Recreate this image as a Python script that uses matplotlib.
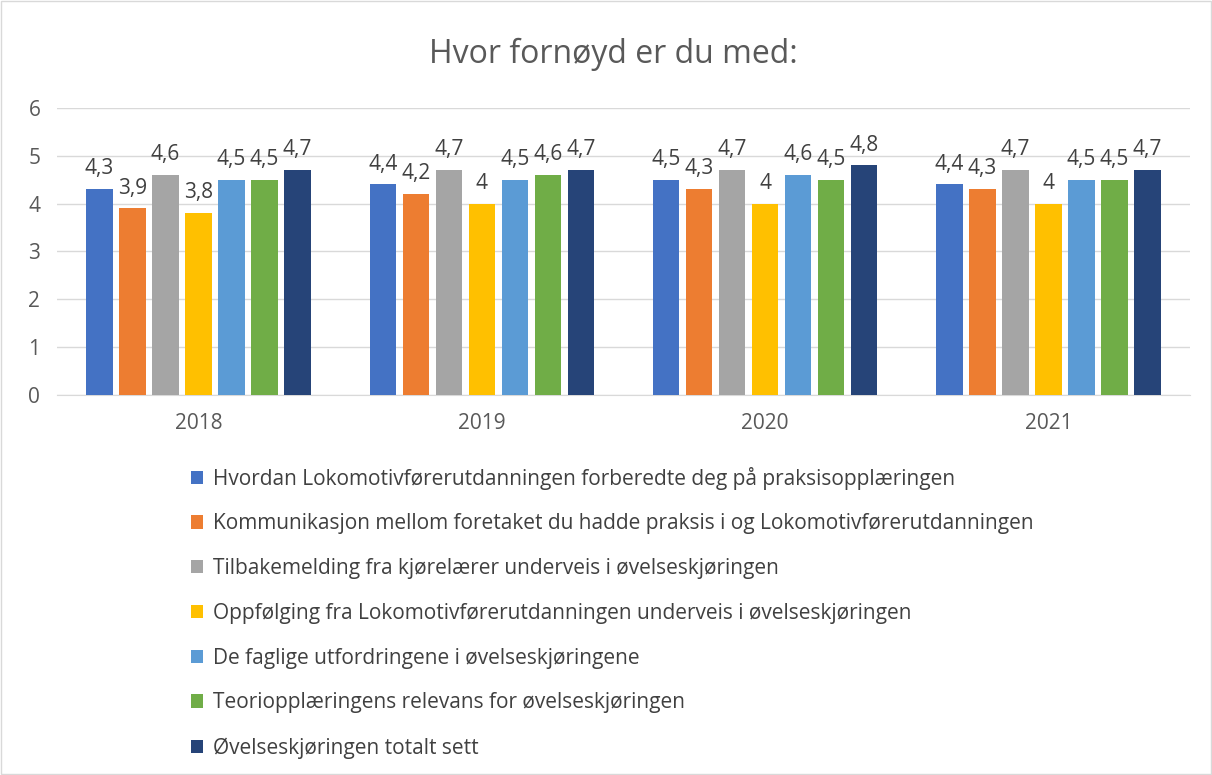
import numpy as np
import matplotlib
matplotlib.use("Agg")
import matplotlib.pyplot as plt

years = ["2018", "2019", "2020", "2021"]
series_names = [
    "Hvordan Lokomotivførerutdanningen forberedte deg på praksisopplæringen",
    "Kommunikasjon mellom foretaket du hadde praksis i og Lokomotivførerutdanningen",
    "Tilbakemelding fra kjørelærer underveis i øvelseskjøringen",
    "Oppfølging fra Lokomotivførerutdanningen underveis i øvelseskjøringen",
    "De faglige utfordringene i øvelseskjøringene",
    "Teoriopplæringens relevans for øvelseskjøringen",
    "Øvelseskjøringen totalt sett",
]
forberedte = [4.3, 4.4, 4.5, 4.4]
kommunikasjon = [3.9, 4.2, 4.3, 4.3]
tilbakemelding = [4.6, 4.7, 4.7, 4.7]
oppfolging = [3.8, 4.0, 4.0, 4.0]
faglige = [4.5, 4.5, 4.6, 4.5]
teori = [4.5, 4.6, 4.5, 4.5]
totalt = [4.7, 4.7, 4.8, 4.7]
values = [forberedte, kommunikasjon, tilbakemelding, oppfolging, faglige, teori, totalt]
colors = ["#4472C4", "#ED7D31", "#A5A5A5", "#FFC000", "#5B9BD5", "#70AD47", "#264478"]

plt.rcParams['font.family'] = ['Open Sans', 'DejaVu Sans']

fig = plt.figure(figsize=(12.12, 7.75), dpi=100)
fig.patches.append(plt.Rectangle((0.001, 0.001), 0.998, 0.998, transform=fig.transFigure,
                                 fill=False, edgecolor="#D9D9D9", linewidth=1))
ax = fig.add_axes([0.047, 0.490, 0.935, 0.371])

x = np.arange(len(years))
slot = 0.1165
width = slot * 0.8
for i, (name, vals, c) in enumerate(zip(series_names, values, colors)):
    pos = x + (i - 3) * slot
    bars = ax.bar(pos, vals, width, color=c, label=name, zorder=3)
    labels = [f"{v:g}".replace(".", ",") for v in vals]
    ax.bar_label(bars, labels=labels, padding=7, fontsize=15, color="#404040")

ax.set_ylim(0, 6)
ax.set_xlim(-0.5, 3.5)
ax.set_yticks(range(0, 7))
ax.set_xticks(x)
ax.set_xticklabels(years)
ax.tick_params(axis="both", length=0, labelsize=15, labelcolor="#595959")
ax.tick_params(axis="x", pad=13)
ax.tick_params(axis="y", pad=12)
ax.yaxis.grid(True, color="#D9D9D9", linewidth=1, zorder=0)
for s in ["top", "right", "left"]:
    ax.spines[s].set_visible(False)
ax.spines["bottom"].set_color("#D9D9D9")

fig.text(0.506, 0.930, "Hvor fornøyd er du med:", ha="center", va="center",
         fontsize=23, color="#595959")

handles, labs = ax.get_legend_handles_labels()
fig.legend(handles, labs, loc="upper left", bbox_to_anchor=(0.142, 0.422),
           frameon=False, fontsize=15, labelcolor="#404040",
           handlelength=0.6, handleheight=0.6, handletextpad=0.45,
           labelspacing=1.14)

fig.savefig("out.png", dpi=100)
